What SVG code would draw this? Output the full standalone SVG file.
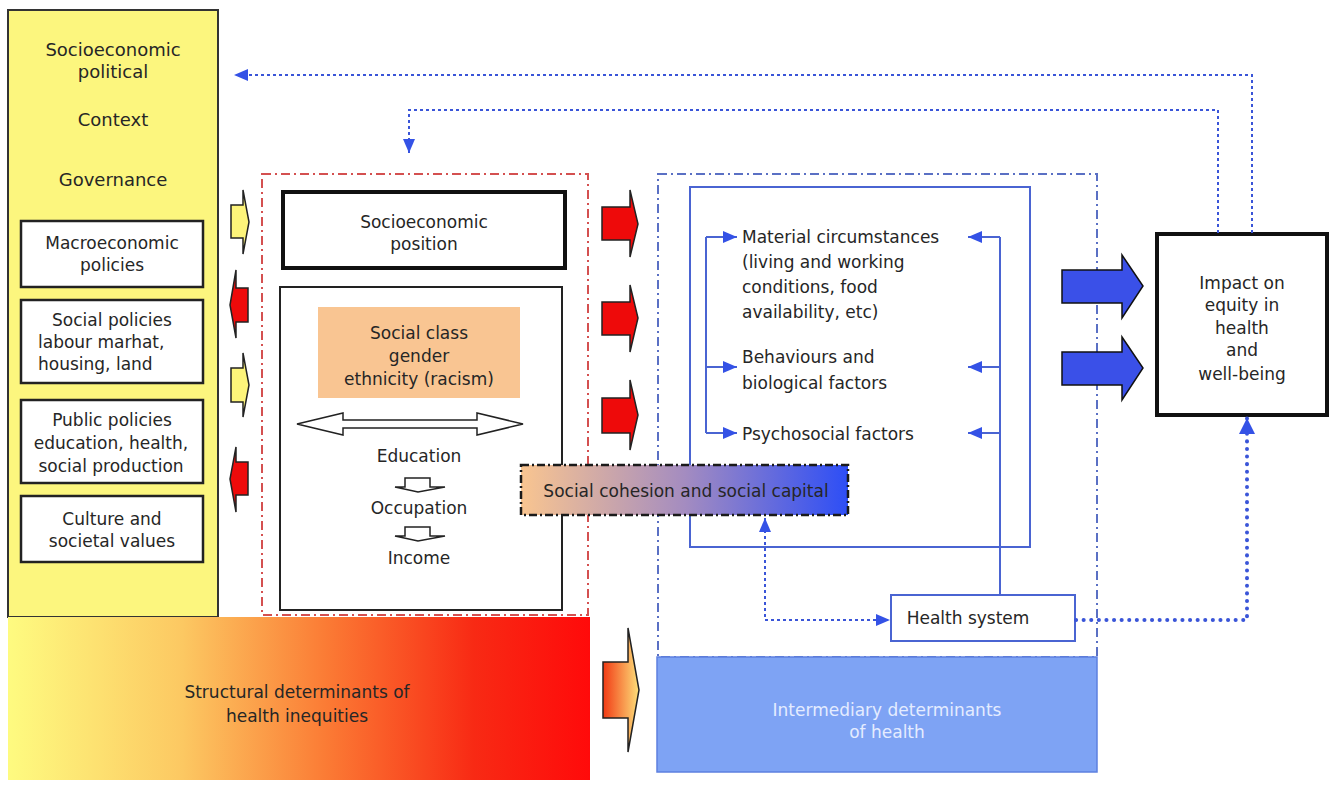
<svg xmlns="http://www.w3.org/2000/svg" width="1335" height="798" viewBox="0 0 1335 798">
<defs>
<style>
text{font-family:"DejaVu Sans","Liberation Sans",Arial,sans-serif;font-size:17px;fill:#262626}
.c{text-anchor:middle}
.box{fill:#fff;stroke:#222;stroke-width:2.5}
.dot{fill:none;stroke:#3a55d8;stroke-width:2;stroke-dasharray:3 3}
.blu{fill:none;stroke:#4a64d2;stroke-width:2}
.redf{fill:none;stroke:#d45050;stroke-width:2;stroke-dasharray:9 4 2 4}
.bluf{fill:none;stroke:#5a70c4;stroke-width:2;stroke-dasharray:9 4 2 4}
.ya{fill:#fdf47a;stroke:#222;stroke-width:1.5}
.ra{fill:#ee0a0a;stroke:#222;stroke-width:1.5}
.ba{fill:#3a50e8;stroke:#111;stroke-width:1.5}
.ha{fill:#fff;stroke:#222;stroke-width:1.5}
</style>
<marker id="ah" viewBox="0 0 14 12" refX="14" refY="6" markerWidth="14" markerHeight="12" markerUnits="userSpaceOnUse" orient="auto-start-reverse"><path d="M0,0 L14,6 L0,12 z" fill="#3452e6"/></marker>
<marker id="ahb" viewBox="0 0 16 16" refX="16" refY="8" markerWidth="16" markerHeight="16" markerUnits="userSpaceOnUse" orient="auto"><path d="M0,0 L16,8 L0,16 z" fill="#3452e6"/></marker>
<linearGradient id="gStruct" x1="0" y1="0" x2="1" y2="0">
<stop offset="0" stop-color="#fefb80"/>
<stop offset="0.3" stop-color="#fcc862"/>
<stop offset="0.55" stop-color="#fb7a34"/>
<stop offset="0.8" stop-color="#f82a14"/>
<stop offset="1" stop-color="#ff0a0a"/>
</linearGradient>
<linearGradient id="gCoh" x1="0" y1="0" x2="1" y2="0">
<stop offset="0" stop-color="#f9c590"/>
<stop offset="0.5" stop-color="#a48cc0"/>
<stop offset="1" stop-color="#2d4ef6"/>
</linearGradient>
<linearGradient id="gArr" x1="0" y1="0" x2="1" y2="0">
<stop offset="0" stop-color="#f23a14"/>
<stop offset="1" stop-color="#fde07a"/>
</linearGradient>
</defs>
<rect width="1335" height="798" fill="#fff"/>

<g id="context">
<rect x="8" y="10" width="210" height="607" fill="#fcf67e" stroke="#333" stroke-width="2"/>
<text class="c" x="113" y="56" style="font-size:18px">Socioeconomic</text>
<text class="c" x="113" y="78" style="font-size:18px">political</text>
<text class="c" x="113" y="126" style="font-size:18px">Context</text>
<text class="c" x="113" y="186" style="font-size:18px">Governance</text>
</g>
<g id="macro">
<rect class="box" x="21" y="221" width="182" height="66"/>
<text class="c" x="112" y="249">Macroeconomic</text>
<text class="c" x="112" y="271">policies</text>
</g>
<g id="social-policies">
<rect class="box" x="21" y="300" width="182" height="83"/>
<text class="c" x="112" y="326">Social policies</text>
<text x="38" y="348">labour marhat,</text>
<text x="38" y="370">housing, land</text>
</g>
<g id="public-policies">
<rect class="box" x="21" y="400" width="182" height="83"/>
<text class="c" x="112" y="426">Public policies</text>
<text class="c" x="111" y="449">education, health,</text>
<text class="c" x="111" y="472">social production</text>
</g>
<g id="culture">
<rect class="box" x="21" y="496" width="182" height="66"/>
<text class="c" x="112" y="525">Culture and</text>
<text class="c" x="112" y="547">societal values</text>
</g>

<g id="structural">
<rect x="8" y="617" width="582" height="163" fill="url(#gStruct)"/>
<text class="c" x="297" y="698">Structural determinants of</text>
<text class="c" x="297" y="722">health inequities</text>
</g>

<g id="left-arrows">
<polygon class="ya" points="231,205 243,205 243,190 249,222 243,254 243,238 231,238"/>
<polygon class="ra" points="248,288 236,288 236,270 230,305 236,338 236,322 248,322"/>
<polygon class="ya" points="231,368 243,368 243,353 249,385 243,417 243,402 231,402"/>
<polygon class="ra" points="248,462 236,462 236,447 230,479 236,512 236,495 248,495"/>
</g>

<g id="structural-frame">
<rect class="redf" x="262" y="174" width="326" height="441"/>
</g>
<g id="sep">
<rect x="283" y="192" width="282" height="76" fill="#fff" stroke="#111" stroke-width="4"/>
<text class="c" x="424" y="228">Socioeconomic</text>
<text class="c" x="424" y="250">position</text>
</g>
<g id="sep-detail">
<rect x="280" y="287" width="282" height="323" fill="#fff" stroke="#222" stroke-width="2"/>
</g>
<g id="social-class">
<rect x="318" y="307" width="202" height="91" fill="#f9c592"/>
<text class="c" x="419" y="339">Social class</text>
<text class="c" x="419" y="362">gender</text>
<text class="c" x="419" y="385">ethnicity (racism)</text>
</g>
<g id="double-arrow">
<polygon class="ha" points="297,424 343,413 343,420 477,420 477,413 523,424 477,435 477,428 343,428 343,435"/>
</g>
<g id="education">
<text class="c" x="419" y="462">Education</text>
</g>
<g id="occupation">
<text class="c" x="419" y="514">Occupation</text>
</g>
<g id="income">
<text class="c" x="419" y="564">Income</text>
</g>
<g id="small-arrows">
<polygon class="ha" points="405,478 430,478 430,487 445,487 418,492 395,487 405,487"/>
<polygon class="ha" points="405,527 430,527 430,536 445,536 418,541 395,536 405,536"/>
</g>

<g id="right-red-arrows">
<polygon class="ra" points="602,207 630,207 630,190 638,224 630,257 630,240 602,240"/>
<polygon class="ra" points="602,302 630,302 630,285 638,318 630,352 630,335 602,335"/>
<polygon class="ra" points="602,398 630,398 630,380 638,415 630,450 630,433 602,433"/>
</g>
<g id="orange-arrow">
<polygon points="603,662 628,662 628,628 639,690 628,752 628,718 603,718" fill="url(#gArr)" stroke="#222" stroke-width="1.5"/>
</g>

<g id="intermediary-frame">
<rect class="bluf" x="658" y="174" width="439" height="483"/>
</g>
<g id="intermediary">
<rect x="657" y="657" width="440" height="115" fill="#7ea3f4" stroke="#5d80e0" stroke-width="1.5"/>
<text class="c" x="887" y="716" style="fill:#e4ecff">Intermediary determinants</text>
<text class="c" x="887" y="738" style="fill:#e4ecff">of health</text>
</g>
<g id="inner-box">
<rect class="blu" x="690" y="187" width="340" height="360"/>
</g>
<g id="material">
<text x="742" y="243">Material circumstances</text>
<text x="742" y="268">(living and working</text>
<text x="742" y="293">conditions, food</text>
<text x="742" y="318">availability, etc)</text>
</g>
<g id="behaviours">
<text x="742" y="363">Behaviours and</text>
<text x="742" y="389">biological factors</text>
</g>
<g id="psychosocial">
<text x="742" y="440">Psychosocial factors</text>
</g>
<g id="social-cohesion">
<rect x="521" y="465" width="327" height="50" fill="url(#gCoh)" stroke="#1a1a1a" stroke-width="2.5" stroke-dasharray="8 3 2 3"/>
<text class="c" x="686" y="497">Social cohesion and social capital</text>
</g>
<g id="health-system">
<rect x="891" y="595" width="184" height="46" fill="#fff" stroke="#4a64d2" stroke-width="2"/>
<text class="c" x="968" y="624">Health system</text>
</g>
<g id="impact">
<rect x="1157" y="234" width="170" height="181" fill="#fff" stroke="#111" stroke-width="4"/>
<text class="c" x="1242" y="289">Impact on</text>
<text class="c" x="1242" y="311">equity in</text>
<text class="c" x="1242" y="334">health</text>
<text class="c" x="1242" y="356">and</text>
<text class="c" x="1242" y="380">well-being</text>
</g>
<g id="blue-arrows">
<polygon class="ba" points="1062,270 1122,270 1122,255 1143,286 1122,318 1122,303 1062,303"/>
<polygon class="ba" points="1062,352 1122,352 1122,337 1143,368 1122,400 1122,385 1062,385"/>
</g>

<g id="connectors">
<path class="dot" d="M1252,233 V75 H234" marker-end="url(#ah)"/>
<path class="dot" d="M1218,233 V110 H409 V153" marker-end="url(#ah)"/>
<path class="dot" d="M765,518 V620 H890" marker-start="url(#ah)" marker-end="url(#ah)"/>
<path d="M1076,620 H1247 V418" fill="none" stroke="#3a55d8" stroke-width="4" stroke-dasharray="0.1 7.5" stroke-linecap="round" marker-end="url(#ahb)"/>
<path class="blu" d="M706,237 V433"/>
<path class="blu" d="M706,237 H737" marker-end="url(#ah)"/>
<path class="blu" d="M706,367 H737" marker-end="url(#ah)"/>
<path class="blu" d="M706,433 H737" marker-end="url(#ah)"/>
<path class="blu" d="M1000,237 V595"/>
<path class="blu" d="M1000,237 H968" marker-end="url(#ah)"/>
<path class="blu" d="M1000,367 H968" marker-end="url(#ah)"/>
<path class="blu" d="M1000,433 H968" marker-end="url(#ah)"/>
</g>
</svg>
